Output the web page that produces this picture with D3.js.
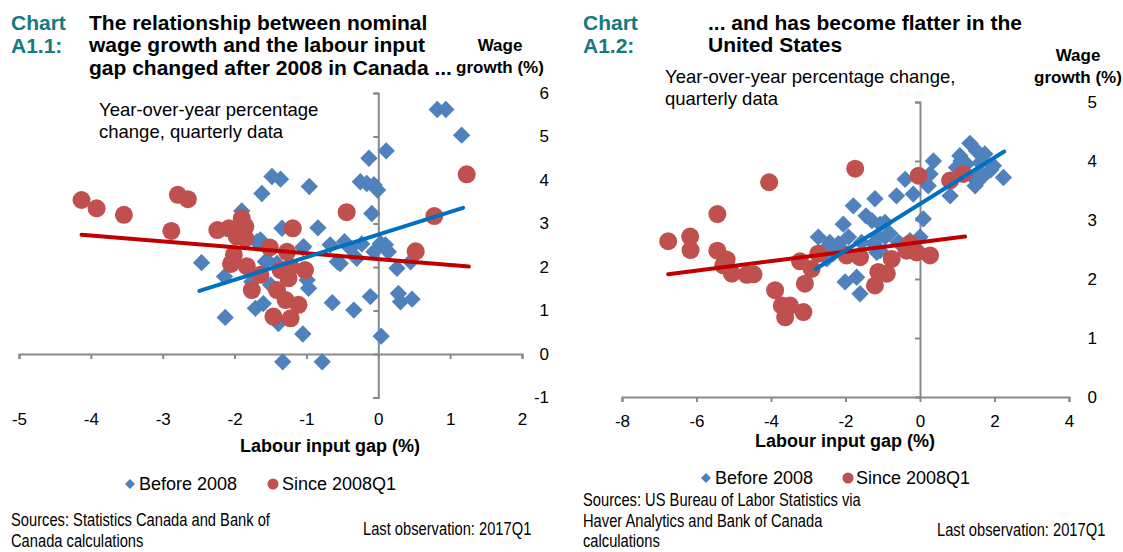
<!DOCTYPE html>
<html>
<head>
<meta charset="utf-8">
<script src="https://cdn.jsdelivr.net/npm/d3@7"></script>
<style>
  body { margin: 0; background: #fff; }
  svg { display: block; font-family: "Liberation Sans", Arial, sans-serif; }
</style>
</head>
<body>
<svg id="chart" width="1123" height="552"></svg>
<script>
// ---- data: Canada (Chart A1.1) ----
var caBefore = [
  [0.82,5.62],[0.94,5.62],[1.16,5.03],[0.11,4.67],[-0.13,4.50],[-0.25,3.96],[-0.16,3.92],
  [-0.06,3.89],[-0.01,3.77],[-0.09,3.23],[-0.96,3.85],[-1.36,4.02],[-1.48,4.08],[-1.62,3.69],
  [-1.90,3.29],[-0.84,2.90],[-1.34,2.89],[-1.05,2.44],[-0.67,2.51],[-0.47,2.58],[-0.39,2.43],
  [-0.53,2.08],[-0.30,2.20],[-0.23,2.53],[-0.06,2.35],[0.03,2.54],[0.10,2.51],[0.14,2.35],
  [0.26,1.97],[0.45,2.12],[0.28,1.39],[0.31,1.20],[0.47,1.26],[-0.11,1.32],[-0.64,1.18],
  [-0.34,1.01],[0.04,0.41],[-1.05,0.46],[-0.78,-0.18],[-1.33,-0.18],[-1.39,0.70],[-2.46,2.10],
  [-2.14,1.78],[-2.13,0.84],[-1.64,2.62],[-1.04,2.47],[-1.57,2.12],[-1.76,1.66],[-1.50,1.59],
  [-0.99,1.70],[-0.97,1.51],[-1.71,1.05],[-1.60,1.16],[-0.57,2.12],[-1.41,2.08],[-1.69,2.58],
  [-1.55,2.16]
];
var caSince = [
  [-4.13,3.54],[-3.92,3.35],[-3.54,3.20],[-2.79,3.66],[-2.65,3.56],[-2.88,2.83],[-0.44,3.26],
  [0.78,3.17],[1.23,4.13],[0.52,2.36],[-2.24,2.85],[-2.08,2.89],[-1.90,3.12],[-1.85,2.93],
  [-1.97,2.70],[-1.85,2.66],[-1.19,2.89],[-1.51,2.45],[-1.27,2.35],[-2.01,2.28],[-2.05,2.07],
  [-1.83,2.02],[-1.64,1.82],[-1.36,1.93],[-1.22,2.00],[-1.02,1.93],[-1.25,1.74],[-1.76,1.47],
  [-1.41,1.47],[-1.29,1.24],[-1.11,1.13],[-1.46,0.86],[-1.22,0.82]
];
var caTrendBefore = [[-2.49,1.45],[1.18,3.36]];
var caTrendSince = [[-4.13,2.74],[1.26,2.01]];
var caXTicks = [-5,-4,-3,-2,-1,0,1,2];
var caYTicks = [-1,0,1,2,3,4,5,6];

// ---- data: United States (Chart A1.2) ----
var usBefore = [
  [1.34,4.30],[1.07,4.09],[1.25,3.95],[1.52,4.17],[1.74,4.12],[1.61,3.97],[1.43,3.72],
  [1.66,3.72],[1.97,3.92],[2.24,3.72],[1.48,3.58],[0.81,3.41],[0.98,3.89],[0.36,4.00],
  [0.27,3.78],[0.22,3.58],[-0.40,3.69],[-0.18,3.44],[-0.63,3.41],[-1.21,3.36],[-1.79,3.24],
  [-1.45,3.07],[-1.29,2.99],[-1.07,2.93],[-0.94,2.96],[-2.06,2.93],[0.09,3.02],[-0.81,2.77],
  [-2.73,2.71],[-2.42,2.62],[-2.50,2.54],[-2.19,2.60],[-2.33,2.43],[-1.57,2.62],[-1.25,2.60],
  [-1.07,2.48],[-0.54,2.60],[0.00,2.71],[-2.50,2.34],[-2.01,1.95],[-1.70,2.03],[-1.61,1.75],
  [-0.27,2.65],[-0.58,2.62],[-1.16,2.45],[-1.12,2.71],[-0.94,2.71],[-2.15,2.54],[-1.92,2.71],
  [1.10,4.00],[1.20,3.80],[1.60,3.80],[1.90,3.85]
];
var usSince = [
  [-6.76,2.64],[-6.17,2.72],[-6.16,2.49],[-5.44,3.10],[-4.05,3.64],[-5.44,2.48],[-5.19,2.33],
  [-5.28,2.23],[-5.05,2.09],[-4.65,2.07],[-4.47,2.08],[-3.89,1.81],[-3.71,1.55],[-3.49,1.55],
  [-3.62,1.35],[-3.13,1.44],[-3.22,2.30],[-2.91,2.17],[-2.73,2.43],[-3.09,1.92],[-1.97,2.40],
  [-1.61,2.37],[-1.12,2.12],[-0.89,2.09],[-1.21,1.89],[-0.76,2.34],[-0.27,2.60],[-0.36,2.48],
  [-0.09,2.45],[0.27,2.40],[-1.74,3.87],[-0.04,3.75],[0.81,3.67],[1.16,3.78]
];
var usTrendBefore = [[-2.80,2.17],[2.26,4.16]];
var usTrendSince = [[-6.76,2.08],[1.21,2.72]];
var usXTicks = [-8,-6,-4,-2,0,2,4];
var usYTicks = [0,1,2,3,4,5];

var blue = '#4f81bd', red = '#c0504d', blueLine = '#0070c0', redLine = '#c00000';
var axisGrey = '#898989', teal = '#16797d';
var plain = (d) => String(d);   // "-5" with a hyphen, no decimals

var svg = d3.select('#chart');

// Draws one scatter panel
function drawPanel(p) {
    var g = svg.append('g');
    var x = d3.scaleLinear().domain(p.xDomain).range(p.xRange);
    var y = d3.scaleLinear().domain(p.yDomain).range(p.yRange);

    // horizontal axis through y = 0
    g.append('g')
        .attr('transform', 'translate(0,' + y(0) + ')')
        .call(d3.axisBottom(x).tickValues(p.xTicks).tickSize(5).tickFormat(''));
    // vertical axis through x = 0
    g.append('g')
        .attr('transform', 'translate(' + x(0) + ',0)')
        .call(d3.axisLeft(y).tickValues(p.yTicks).tickSize(5).tickSizeOuter(5).tickFormat(''));
    g.selectAll('.domain, .tick line').attr('stroke', axisGrey).attr('stroke-width', 2);

    // tick labels (low / right side)
    g.append('g')
        .attr('transform', 'translate(0,' + p.xLabelY + ')')
        .call(d3.axisBottom(x).tickValues(p.xTicks).tickSize(0).tickPadding(0).tickFormat(plain))
        .call((s) => s.select('.domain').remove())
        .selectAll('text').attr('font-size', 17).attr('fill', '#000').attr('dy', '0.35em')
        .attr('font-family', 'Liberation Sans, Arial, sans-serif');
    g.append('g')
        .attr('transform', 'translate(' + p.yLabelX + ',0)')
        .call(d3.axisLeft(y).tickValues(p.yTicks).tickSize(0).tickPadding(0).tickFormat(plain))
        .call((s) => s.select('.domain').remove())
        .selectAll('text').attr('font-size', 17).attr('fill', '#000')
        .attr('font-family', 'Liberation Sans, Arial, sans-serif');

    // markers
    var diamond = d3.symbol(d3.symbolSquare, 150);
    g.append('g').selectAll('path').data(p.before).enter().append('path')
        .attr('d', diamond)
        .attr('transform', (d) => 'translate(' + x(d[0]) + ',' + y(d[1]) + ') rotate(45)')
        .attr('fill', blue);
    g.append('g').selectAll('circle').data(p.since).enter().append('circle')
        .attr('cx', (d) => x(d[0])).attr('cy', (d) => y(d[1])).attr('r', 9)
        .attr('fill', red);

    // trend lines
    var line = d3.line().x((d) => x(d[0])).y((d) => y(d[1]));
    g.append('path').attr('d', line(p.trendSince)).attr('stroke', redLine)
        .attr('stroke-width', 4).attr('fill', 'none').attr('stroke-linecap', 'round');
    g.append('path').attr('d', line(p.trendBefore)).attr('stroke', blueLine)
        .attr('stroke-width', 4).attr('fill', 'none').attr('stroke-linecap', 'round');

    // texts
    function text(t, px, py, opts) {
        opts = opts || {};
        return g.append('text').text(t).attr('x', px).attr('y', py)
            .attr('dominant-baseline', 'central')
            .attr('font-size', opts.size || 17)
            .attr('font-weight', opts.bold ? 'bold' : null)
            .attr('text-anchor', opts.anchor || 'start')
            .attr('fill', opts.color || '#000');
    }
    // no narrow face installed: squeeze the regular one
    function narrow(t, px, py) {
        return g.append('text').text(t)
            .attr('transform', 'translate(' + px + ',' + py + ') scale(0.84,1)')
            .attr('dominant-baseline', 'central')
            .attr('font-size', 17.5).attr('fill', '#000');
    }
    text('Chart', p.chartX, 22, {size: 21, bold: true, color: teal});
    text(p.chartId, p.chartX, 45, {size: 21, bold: true, color: teal});
    p.title.forEach((t, i) => text(t, p.titleX, 22 + i * 22.7, {size: 21, bold: true}));
    p.subtitle.forEach((t, i) => text(t, p.subX, p.subY + i * 22, {size: 18.5}));
    text('Wage', p.wageX, p.wageY, {size: 17, bold: true, anchor: 'middle'});
    text('growth (%)', p.wageX, p.wageY + 22, {size: 17, bold: true, anchor: 'middle'});
    text('Labour input gap (%)', p.xTitleX, p.xTitleY, {size: 18, bold: true, anchor: 'middle'});

    // legend
    g.append('path').attr('d', d3.symbol(d3.symbolSquare, 50))
        .attr('transform', 'translate(' + p.legend[0] + ',' + p.legendY + ') rotate(45)')
        .attr('fill', blue);
    text('Before 2008', p.legend[1], p.legendY, {size: 18});
    g.append('circle').attr('cx', p.legend[2]).attr('cy', p.legendY).attr('r', 5.5).attr('fill', red);
    text('Since 2008Q1', p.legend[3], p.legendY, {size: 18});

    p.sources.forEach((t, i) => narrow(t, p.srcX, p.srcY + i * 20.5));
    narrow('Last observation: 2017Q1', p.lastX, p.lastY);
}

drawPanel({
    before: caBefore, since: caSince, trendBefore: caTrendBefore, trendSince: caTrendSince,
    xDomain: [-5, 2], xRange: [19, 522], yDomain: [-1, 6], yRange: [397.5, 93],
    xTicks: caXTicks, yTicks: caYTicks, xLabelY: 419, yLabelX: 549,
    chartX: 11, chartId: 'A1.1:', titleX: 89,
    title: ['The relationship between nominal', 'wage growth and the labour input',
            'gap changed after 2008 in Canada ...'],
    subX: 99, subY: 109, subtitle: ['Year-over-year percentage', 'change, quarterly data'],
    wageX: 500, wageY: 45, xTitleX: 330, xTitleY: 446,
    legendY: 484, legend: [130, 139, 273, 282],
    srcX: 11, srcY: 520, sources: ['Sources: Statistics Canada and Bank of', 'Canada calculations'],
    lastX: 363, lastY: 529
});

drawPanel({
    before: usBefore, since: usSince, trendBefore: usTrendBefore, trendSince: usTrendSince,
    xDomain: [-8, 4], xRange: [622, 1069], yDomain: [0, 5], yRange: [397, 102],
    xTicks: usXTicks, yTicks: usYTicks, xLabelY: 421, yLabelX: 1097,
    chartX: 583, chartId: 'A1.2:', titleX: 708,
    title: ['... and has become flatter in the', 'United States'],
    subX: 665, subY: 76, subtitle: ['Year-over-year percentage change,', 'quarterly data'],
    wageX: 1078, wageY: 55, xTitleX: 845, xTitleY: 441,
    legendY: 478, legend: [706, 715, 848, 856],
    srcX: 583, srcY: 500, sources: ['Sources: US Bureau of Labor Statistics via',
                                    'Haver Analytics and Bank of Canada', 'calculations'],
    lastX: 937, lastY: 530
});
</script>
</body>
</html>
